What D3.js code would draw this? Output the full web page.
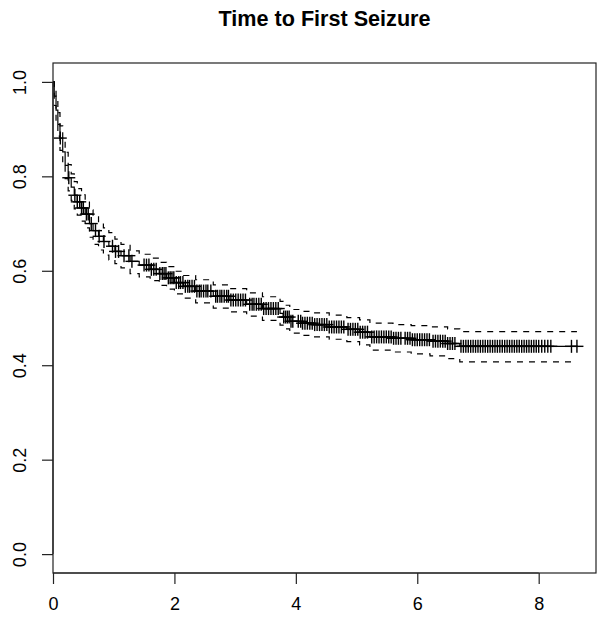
<!DOCTYPE html>
<html><head><meta charset="utf-8">
<script src="https://cdn.jsdelivr.net/npm/d3@7"></script>
<style>
html,body{margin:0;padding:0;background:#fff;}
svg text{font-family:"Liberation Sans",Arial,Helvetica,sans-serif;fill:#000;}
</style>
</head><body>
<svg id="chart" width="600" height="621"></svg>
<script>
// ---- data ----
const title = "Time to First Seizure";
const xTicks = [0, 2, 4, 6, 8];
const yTicks = [0.0, 0.2, 0.4, 0.6, 0.8, 1.0];
const lastTime = 8.63;

// Kaplan-Meier step points: time, survival
const kmTime = [0, 0.02, 0.05, 0.08, 0.115, 0.16, 0.2, 0.25, 0.3, 0.35, 0.4, 0.47, 0.53, 0.6, 0.66, 0.75, 0.83, 0.92, 1.02, 1.12, 1.27, 1.42, 1.6, 1.75, 1.87, 2.0, 2.15, 2.35, 2.64, 2.9, 3.19, 3.45, 3.74, 3.79, 3.9, 4.1, 4.29, 4.55, 4.84, 5.05, 5.22, 5.6, 5.9, 6.21, 6.5, 6.7];
const kmSurv = [1.0, 0.97, 0.94, 0.91, 0.881, 0.852, 0.823, 0.797, 0.777, 0.76, 0.746, 0.733, 0.72, 0.70, 0.685, 0.673, 0.662, 0.652, 0.641, 0.632, 0.62, 0.612, 0.603, 0.594, 0.585, 0.575, 0.567, 0.557, 0.546, 0.538, 0.529, 0.520, 0.510, 0.502, 0.493, 0.489, 0.486, 0.481, 0.476, 0.470, 0.460, 0.457, 0.454, 0.451, 0.446, 0.440];
// 95% confidence limits at the same step times
const ciUpper = [1.0, 0.99, 0.963, 0.935, 0.907, 0.879, 0.851, 0.825, 0.805, 0.789, 0.774, 0.761, 0.749, 0.729, 0.714, 0.702, 0.691, 0.681, 0.667, 0.656, 0.642, 0.635, 0.627, 0.618, 0.609, 0.599, 0.590, 0.581, 0.570, 0.562, 0.553, 0.545, 0.535, 0.527, 0.518, 0.514, 0.511, 0.506, 0.501, 0.496, 0.489, 0.486, 0.484, 0.481, 0.477, 0.471];
const ciLower = [1.0, 0.95, 0.917, 0.885, 0.855, 0.825, 0.795, 0.769, 0.749, 0.731, 0.718, 0.705, 0.691, 0.671, 0.656, 0.644, 0.633, 0.623, 0.615, 0.606, 0.594, 0.587, 0.579, 0.569, 0.561, 0.551, 0.542, 0.532, 0.521, 0.513, 0.504, 0.495, 0.485, 0.477, 0.468, 0.463, 0.460, 0.455, 0.450, 0.443, 0.432, 0.428, 0.424, 0.420, 0.414, 0.407];

// censoring times (+ marks)
const censorTimes = [0.12, 0.26, 0.36, 0.40, 0.44, 0.47, 0.50, 0.55, 0.58, 0.63, 0.70, 0.76, 0.84, 0.98, 1.03, 1.08, 1.17, 1.25, 1.30,
  1.50, 1.54, 1.58, 1.62, 1.66, 1.70, 1.76, 1.80, 1.83, 1.86, 1.90, 1.93, 1.96, 1.99,
  2.03, 2.07, 2.10, 2.14, 2.18, 2.22, 2.25, 2.29, 2.33, 2.37, 2.41, 2.44, 2.48, 2.52, 2.55, 2.60,
  2.68, 2.71, 2.75, 2.78, 2.82, 2.86, 2.89, 2.93, 2.97, 3.01, 3.05, 3.09, 3.13, 3.17,
  3.24, 3.28, 3.31, 3.35, 3.39, 3.43, 3.47, 3.51, 3.55, 3.59, 3.63, 3.67, 3.71,
  3.80, 3.83, 3.86, 3.89, 3.92, 3.95,
  4.04, 4.08, 4.11, 4.15, 4.19, 4.23, 4.27, 4.31, 4.35, 4.39, 4.43, 4.47, 4.51, 4.55, 4.59, 4.63, 4.67, 4.71, 4.75, 4.79,
  4.86, 4.90, 4.94, 4.98, 5.02, 5.06, 5.10, 5.14, 5.18,
  5.25, 5.29, 5.33, 5.37, 5.41, 5.45, 5.49, 5.53, 5.57, 5.61, 5.65, 5.69, 5.73,
  5.80, 5.84, 5.88, 5.92, 5.96, 6.00, 6.04, 6.08, 6.12, 6.16, 6.20,
  6.26, 6.30, 6.34, 6.38, 6.42, 6.46, 6.50, 6.54, 6.58, 6.62,
  6.72, 6.76, 6.80, 6.84, 6.88, 6.92, 6.96, 7.00, 7.04, 7.08, 7.12, 7.16, 7.20, 7.24, 7.28, 7.32, 7.36, 7.40, 7.44, 7.48,
  7.52, 7.56, 7.60, 7.64, 7.68, 7.72, 7.76, 7.80, 7.84, 7.88, 7.92, 7.96, 8.00, 8.05, 8.10, 8.15, 8.20,
  8.54, 8.63];

// ---- drawing ----
const svg = d3.select("#chart");
const L = 53, R = 596, T = 63, B = 573;
const x = d3.scaleLinear().domain([0, 8.944]).range([L, R]);
const y = d3.scaleLinear().domain([-0.04, 1.04]).range([B, T]);

function series(vals) {
  const pts = kmTime.map((t, i) => [t, vals[i]]);
  pts.push([lastTime, vals[vals.length - 1]]);
  return pts;
}
const line = d3.line().x(d => x(d[0])).y(d => y(d[1])).curve(d3.curveStepAfter);

const plot = svg.append("g");
plot.append("path").datum(series(ciUpper)).attr("d", line)
  .attr("fill", "none").attr("stroke", "#000").attr("stroke-width", 1.2).attr("stroke-dasharray", "6,6");
plot.append("path").datum(series(ciLower)).attr("d", line)
  .attr("fill", "none").attr("stroke", "#000").attr("stroke-width", 1.2).attr("stroke-dasharray", "6,6");
plot.append("path").datum(series(kmSurv)).attr("d", line)
  .attr("fill", "none").attr("stroke", "#000").attr("stroke-width", 1.2);

function survAt(t) {
  let s = kmSurv[0];
  for (let i = 0; i < kmTime.length; i++) { if (kmTime[i] <= t) s = kmSurv[i]; }
  return s;
}
const arm = 6.5;
const marks = plot.append("g").attr("stroke", "#000").attr("stroke-width", 1.4);
censorTimes.forEach(t => {
  const cx = x(t), cy = y(survAt(t));
  marks.append("line").attr("x1", cx - arm).attr("x2", cx + arm).attr("y1", cy).attr("y2", cy);
  marks.append("line").attr("x1", cx).attr("x2", cx).attr("y1", cy - arm).attr("y2", cy + arm);
});

// box
svg.append("rect").attr("x", L).attr("y", T).attr("width", R - L).attr("height", B - T)
  .attr("fill", "none").attr("stroke", "#222").attr("stroke-width", 1.2);

const fontFam = '"Liberation Sans",Arial,Helvetica,sans-serif';

// x axis
const xAxis = d3.axisBottom(x).tickValues(xTicks).tickSize(11).tickPadding(13)
  .tickFormat(d3.format("d"));
const gx = svg.append("g").attr("transform", `translate(0,${B})`).call(xAxis);
gx.select(".domain").remove();
gx.selectAll("line").attr("stroke", "#222").attr("stroke-width", 1.2);
gx.selectAll("text").attr("font-size", 18).attr("fill", "#000").attr("font-family", fontFam);
svg.append("line").attr("x1", x(0)).attr("x2", x(8)).attr("y1", B).attr("y2", B)
  .attr("stroke", "#222").attr("stroke-width", 1.2);

// y axis
const yAxis = d3.axisLeft(y).tickValues(yTicks).tickSize(11).tickFormat(d3.format(".1f"));
const gy = svg.append("g").attr("transform", `translate(${L},0)`).call(yAxis);
gy.select(".domain").remove();
gy.selectAll("line").attr("stroke", "#222").attr("stroke-width", 1.2);
gy.selectAll("text")
  .attr("font-size", 18).attr("fill", "#000").attr("font-family", fontFam)
  .attr("text-anchor", "middle").attr("dy", null).attr("x", null)
  .attr("transform", "translate(-27,0) rotate(-90)");
svg.append("line").attr("x1", L).attr("x2", L).attr("y1", y(0)).attr("y2", y(1))
  .attr("stroke", "#222").attr("stroke-width", 1.2);

// title
svg.append("text").attr("x", (L + R) / 2).attr("y", 26).attr("text-anchor", "middle")
  .attr("font-size", 21.6).attr("font-weight", "bold").attr("font-family", fontFam).text(title);
</script>
</body></html>
